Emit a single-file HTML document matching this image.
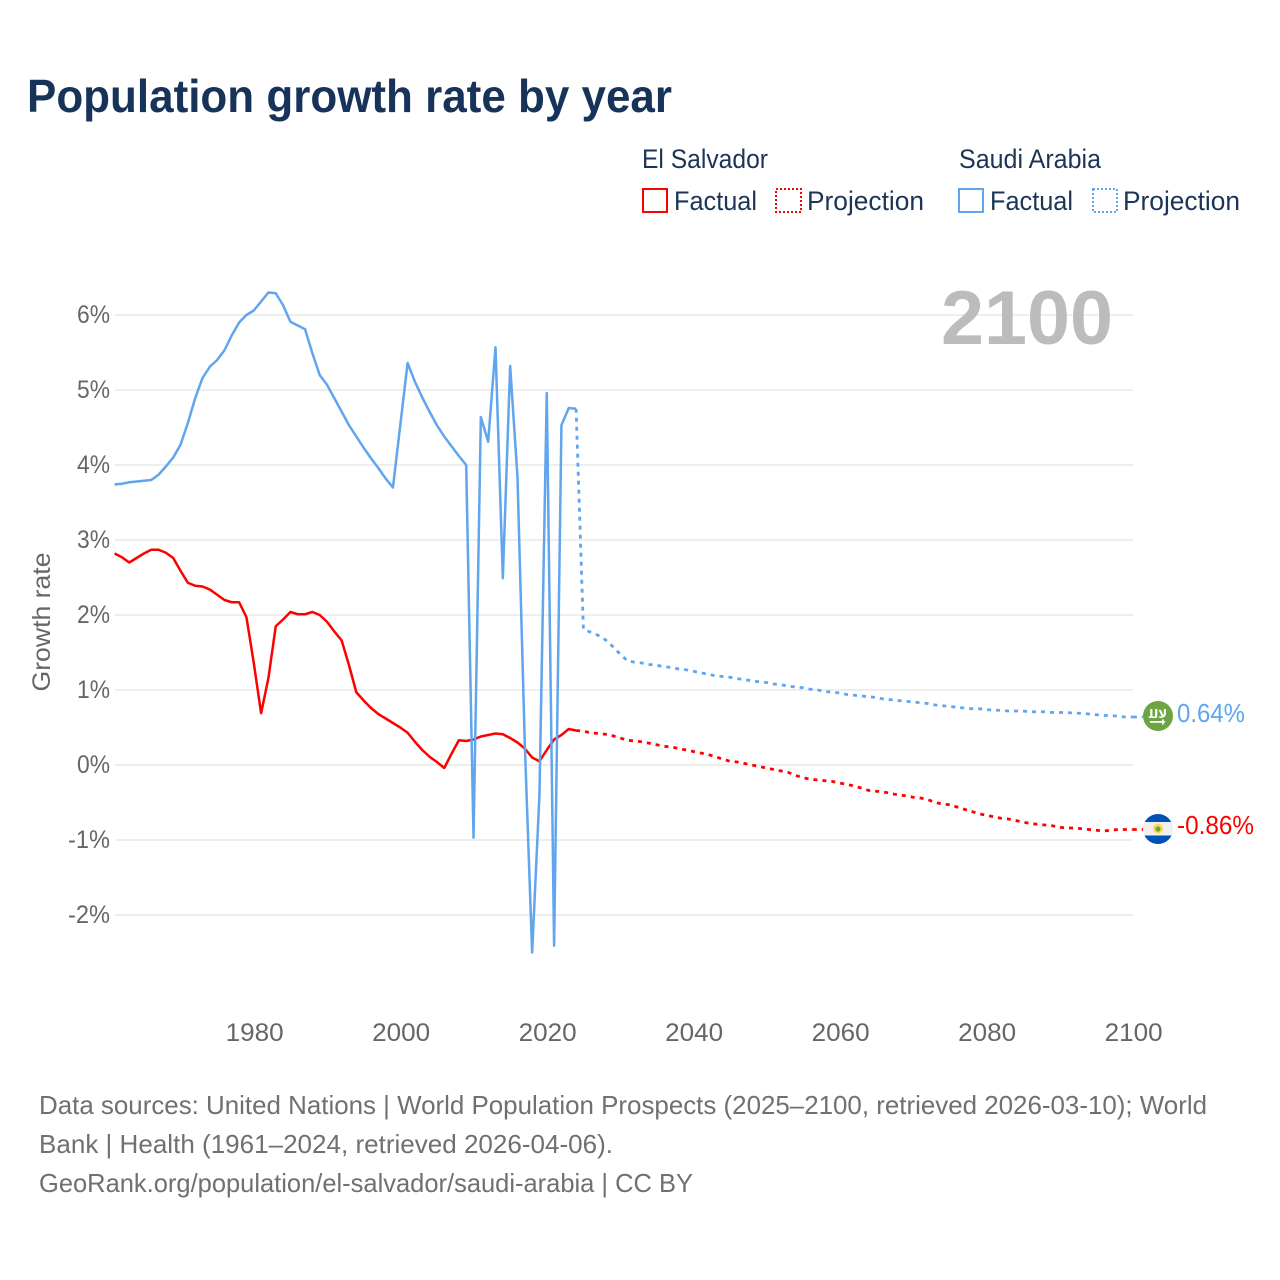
<!DOCTYPE html>
<html lang="en">
<head>
<meta charset="utf-8">
<title>Population growth rate by year</title>
<style>
html,body{margin:0;padding:0;background:#fff;width:1280px;height:1280px;overflow:hidden}
svg{display:block}
text{font-family:"Liberation Sans",sans-serif}
</style>
</head>
<body>
<svg id="chart" width="1280" height="1280" viewBox="0 0 1280 1280" xmlns="http://www.w3.org/2000/svg">
  <text x="27" y="112" font-size="46" font-weight="700" fill="#17335a" textLength="645" lengthAdjust="spacingAndGlyphs">Population growth rate by year</text>

  <g fill="#1c3557" font-size="27">
    <text x="642" y="168" textLength="126" lengthAdjust="spacingAndGlyphs">El Salvador</text>
    <text x="959" y="168" textLength="142" lengthAdjust="spacingAndGlyphs">Saudi Arabia</text>
    <rect x="643" y="189" width="24" height="23" fill="none" stroke="#ff0000" stroke-width="2"/>
    <text x="674" y="210" textLength="83" lengthAdjust="spacingAndGlyphs">Factual</text>
    <rect x="776" y="189" width="25" height="23" fill="none" stroke="#ff0000" stroke-width="2" stroke-dasharray="2 2"/>
    <text x="807" y="210" textLength="117" lengthAdjust="spacingAndGlyphs">Projection</text>
    <rect x="959" y="189" width="24" height="23" fill="none" stroke="#60a5ee" stroke-width="2"/>
    <text x="990" y="210" textLength="83" lengthAdjust="spacingAndGlyphs">Factual</text>
    <rect x="1093" y="189" width="24" height="23" fill="none" stroke="#60a5ee" stroke-width="2" stroke-dasharray="2 2"/>
    <text x="1123" y="210" textLength="117" lengthAdjust="spacingAndGlyphs">Projection</text>
  </g>

  <text transform="translate(50,622) rotate(-90)" text-anchor="middle" font-size="25" fill="#666666" textLength="139" lengthAdjust="spacingAndGlyphs">Growth rate</text>

  <g id="grid"></g>
  <g id="yticks"></g>
  <g id="xticks"></g>

  <text x="941" y="344" font-size="76" font-weight="700" fill="#bcbcbc" textLength="172" lengthAdjust="spacingAndGlyphs">2100</text>

  <g id="series"></g>

  <g>
    <circle cx="1158" cy="716" r="15" fill="#6da544"/>
    <text x="1158" y="718" text-anchor="middle" font-size="12" font-weight="700" fill="#fff" style="font-family:'DejaVu Sans',sans-serif">ﻻﻟﻠ</text>
    <rect x="1150" y="721" width="15" height="1.8" fill="#fff"/>
    <rect x="1162" y="719.5" width="1.8" height="5" fill="#fff"/>
  </g>
  <g>
    <clipPath id="svClip"><circle cx="1158" cy="829" r="15"/></clipPath>
    <g clip-path="url(#svClip)">
      <rect x="1143" y="814" width="30" height="30" fill="#f0f0f0"/>
      <rect x="1143" y="814" width="30" height="8" fill="#0052b4"/>
      <rect x="1143" y="835.5" width="30" height="8.5" fill="#0052b4"/>
      <circle cx="1158" cy="828.5" r="5" fill="#ffda44"/>
      <circle cx="1158" cy="829" r="2.6" fill="#6da544"/>
    </g>
  </g>
  <text id="label-sa" x="1177" y="722" font-size="26" fill="#60a5ee" textLength="68" lengthAdjust="spacingAndGlyphs"></text>
  <text id="label-sv" x="1177" y="834" font-size="26" fill="#ff0000" textLength="77" lengthAdjust="spacingAndGlyphs"></text>

  <g font-size="26" fill="#707070">
    <text x="39" y="1114" textLength="1168" lengthAdjust="spacingAndGlyphs">Data sources: United Nations | World Population Prospects (2025–2100, retrieved 2026-03-10); World</text>
    <text x="39" y="1153" textLength="574" lengthAdjust="spacingAndGlyphs">Bank | Health (1961–2024, retrieved 2026-04-06).</text>
    <text x="39" y="1192" textLength="654" lengthAdjust="spacingAndGlyphs">GeoRank.org/population/el-salvador/saudi-arabia | CC BY</text>
  </g>
</svg>
<script>
var factualStartYear = 1961;
var projectionStartYear = 2024;
var xTickYears = [1980, 2000, 2020, 2040, 2060, 2080, 2100];
var yTickValues = [6, 5, 4, 3, 2, 1, 0, -1, -2];

var elSalvadorFactual = [2.82,2.77,2.70,2.76,2.82,2.87,2.87,2.83,2.76,2.59,2.43,2.39,2.38,2.34,2.27,2.20,2.17,2.17,1.97,1.36,0.69,1.16,1.85,1.94,2.04,2.01,2.01,2.04,2.00,1.91,1.78,1.66,1.33,0.97,0.86,0.76,0.68,0.62,0.56,0.50,0.43,0.31,0.20,0.11,0.04,-0.04,0.15,0.33,0.32,0.34,0.38,0.40,0.42,0.41,0.36,0.30,0.22,0.10,0.05,0.20,0.34,0.40,0.48,0.46];
var elSalvadorProjection = [0.46,0.45,0.43,0.42,0.41,0.39,0.36,0.33,0.32,0.31,0.29,0.27,0.25,0.24,0.22,0.20,0.18,0.16,0.14,0.11,0.08,0.05,0.04,0.02,0.00,-0.02,-0.04,-0.06,-0.08,-0.10,-0.14,-0.17,-0.19,-0.20,-0.21,-0.22,-0.24,-0.26,-0.28,-0.31,-0.34,-0.35,-0.36,-0.38,-0.40,-0.41,-0.43,-0.44,-0.46,-0.50,-0.52,-0.53,-0.56,-0.59,-0.62,-0.65,-0.67,-0.69,-0.71,-0.72,-0.74,-0.76,-0.78,-0.79,-0.80,-0.81,-0.83,-0.84,-0.84,-0.85,-0.86,-0.87,-0.88,-0.87,-0.86,-0.86,-0.86];
var saudiFactual = [3.74,3.75,3.77,3.78,3.79,3.80,3.87,3.98,4.10,4.27,4.56,4.89,5.16,5.31,5.40,5.53,5.73,5.90,6.00,6.06,6.18,6.30,6.29,6.13,5.91,5.86,5.81,5.49,5.20,5.07,4.89,4.71,4.53,4.38,4.23,4.09,3.96,3.82,3.70,4.53,5.36,5.11,4.90,4.71,4.53,4.38,4.25,4.12,4.00,-0.97,4.64,4.31,5.57,2.49,5.32,3.84,0.28,-2.50,-0.40,4.96,-2.41,4.53,4.76,4.75];
var saudiProjection = [4.75,1.81,1.77,1.73,1.67,1.58,1.48,1.39,1.37,1.36,1.34,1.33,1.31,1.30,1.28,1.27,1.25,1.23,1.21,1.19,1.18,1.17,1.15,1.14,1.12,1.11,1.10,1.08,1.07,1.05,1.04,1.03,1.01,1.00,0.98,0.97,0.96,0.94,0.93,0.92,0.91,0.90,0.88,0.87,0.86,0.85,0.84,0.83,0.82,0.80,0.79,0.78,0.77,0.76,0.75,0.75,0.74,0.73,0.73,0.72,0.72,0.72,0.71,0.71,0.71,0.70,0.70,0.70,0.69,0.69,0.68,0.67,0.66,0.66,0.65,0.64,0.64];

var NS = 'http://www.w3.org/2000/svg';
var plotLeft = 115, plotRight = 1133;
function xScale(year) { return 114.6 + (year - 1961) * 7.325; }
function tickX(year) { return 115.5 + (year - 1961) * 7.325; }
function yScale(v) { return 765 - v * 75; }
function mk(tag, attrs, parent) {
  var el = document.createElementNS(NS, tag);
  for (var k in attrs) el.setAttribute(k, attrs[k]);
  parent.appendChild(el);
  return el;
}
function yTickWidth(label) {
  return (label.indexOf('-') === 0 ? 9 : 0) + 14.5 + 18.5;
}
var gridG = document.getElementById('grid');
var yG = document.getElementById('yticks');
var xG = document.getElementById('xticks');
yTickValues.forEach(function (v) {
  var line = mk('line', {x1: plotLeft, x2: plotRight, y1: yScale(v), y2: yScale(v), stroke: '#eeeeee', 'stroke-width': 2}, gridG);
  
  
  var label = v + '%';
  var t = mk('text', {x: 110, y: yScale(v) + 8, 'text-anchor': 'end', 'font-size': 25, fill: '#666666', textLength: yTickWidth(label), lengthAdjust: 'spacingAndGlyphs'}, yG);
  
  
  t.textContent = label;
});
xTickYears.forEach(function (year) {
  var t = mk('text', {x: tickX(year), y: 1041, 'text-anchor': 'middle', 'font-size': 25, fill: '#666666', textLength: 58, lengthAdjust: 'spacingAndGlyphs'}, xG);
  
  
  t.textContent = year;
});
function linePath(values, startYear) {
  return values.map(function (v, i) {
    return (i ? 'L' : 'M') + xScale(startYear + i).toFixed(2) + ' ' + yScale(v).toFixed(2);
  }).join('');
}
var seriesG = document.getElementById('series');
function drawLine(values, startYear, color, dashed, name) {
  var attrs = {d: linePath(values, startYear), fill: 'none', stroke: color, 'stroke-width': dashed ? 2.8 : 2.5, 'stroke-linejoin': 'round'};
  if (dashed) attrs['stroke-dasharray'] = '4 5';
  var p = mk('path', attrs, seriesG);
  
  
}
function drawLeader(values, color, name) {
  var last = values[values.length - 1];
  var l = mk('line', {x1: xScale(2100), x2: 1143, y1: yScale(last), y2: yScale(last), stroke: color, 'stroke-width': 2.8, 'stroke-dasharray': '4 5'}, seriesG);
  
  
}
drawLine(elSalvadorFactual, factualStartYear, '#ff0000', false, 'el-salvador-factual-line');
drawLine(elSalvadorProjection, projectionStartYear, '#ff0000', true, 'el-salvador-projection-line');
drawLeader(elSalvadorProjection, '#ff0000', 'el-salvador-leader-line');
drawLine(saudiFactual, factualStartYear, '#60a5ee', false, 'saudi-arabia-factual-line');
drawLine(saudiProjection, projectionStartYear, '#60a5ee', true, 'saudi-arabia-projection-line');
drawLeader(saudiProjection, '#60a5ee', 'saudi-arabia-leader-line');
document.getElementById('label-sa').textContent = saudiProjection[saudiProjection.length - 1].toFixed(2) + '%';
document.getElementById('label-sv').textContent = elSalvadorProjection[elSalvadorProjection.length - 1].toFixed(2) + '%';
</script>
</body>
</html>
